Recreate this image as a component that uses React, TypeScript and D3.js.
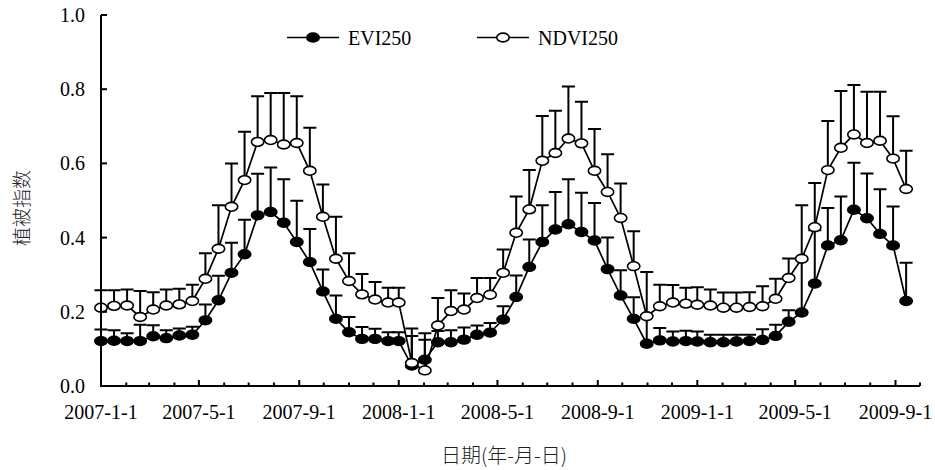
import React, { useEffect, useRef } from 'react';
import * as d3 from 'd3';

// 16-day composites: 23 per year, 2009 up to mid-September
const years = [2007, 2008, 2009];
const compositesPerYear = [23, 23, 17];

const evi = [
  0.121, 0.122, 0.121, 0.121, 0.134, 0.129, 0.136, 0.138, 0.177, 0.231, 0.305, 0.355, 0.46, 0.469, 0.44, 0.388,
  0.334, 0.255, 0.181, 0.145, 0.127, 0.127, 0.121,
  0.121, 0.055, 0.071, 0.118, 0.118, 0.125, 0.138, 0.144, 0.179, 0.24, 0.321, 0.388, 0.422, 0.436, 0.415, 0.392,
  0.315, 0.244, 0.181, 0.114, 0.123, 0.12, 0.121,
  0.12, 0.118, 0.118, 0.12, 0.121, 0.124, 0.135, 0.173, 0.198, 0.276, 0.379, 0.393, 0.475, 0.452, 0.41, 0.379, 0.229,
];
const eviTop = [
  0.152, 0.15, 0.142, 0.165, 0.164, 0.15, 0.155, 0.16, 0.22, 0.297, 0.386, 0.448, 0.572, 0.589, 0.557, 0.499,
  0.423, 0.314, 0.244, 0.186, 0.159, 0.154, 0.145,
  0.145, 0.135, 0.125, 0.148, 0.15, 0.158, 0.163, 0.17, 0.215, 0.298, 0.395, 0.487, 0.523, 0.557, 0.521, 0.493,
  0.4, 0.312, 0.239, 0.19, 0.156, 0.147, 0.149,
  0.147, 0.138, 0.138, 0.138, 0.138, 0.153, 0.165, 0.204, 0.34, 0.42, 0.48, 0.511, 0.602, 0.573, 0.53, 0.484, 0.332,
];
const ndvi = [
  0.211, 0.216, 0.217, 0.186, 0.206, 0.217, 0.22, 0.229, 0.289, 0.37, 0.483, 0.555, 0.658, 0.663, 0.651, 0.655,
  0.58, 0.456, 0.343, 0.283, 0.247, 0.233, 0.225,
  0.225, 0.062, 0.042, 0.163, 0.202, 0.206, 0.237, 0.246, 0.305, 0.413, 0.476, 0.607, 0.628, 0.667, 0.654, 0.58,
  0.523, 0.453, 0.323, 0.188, 0.215, 0.225, 0.222,
  0.219, 0.217, 0.211, 0.211, 0.213, 0.215, 0.235, 0.291, 0.343, 0.428, 0.582, 0.642, 0.678, 0.655, 0.661, 0.613, 0.531,
];
const ndviTop = [
  0.258, 0.258, 0.26, 0.256, 0.253, 0.26, 0.262, 0.273, 0.358, 0.487, 0.6, 0.685, 0.781, 0.79, 0.79, 0.781,
  0.696, 0.543, 0.456, 0.358, 0.302, 0.28, 0.265,
  0.265, 0.155, 0.142, 0.237, 0.258, 0.249, 0.291, 0.291, 0.368, 0.511, 0.582, 0.728, 0.742, 0.807, 0.766, 0.693,
  0.625, 0.546, 0.417, 0.307, 0.273, 0.272, 0.265,
  0.266, 0.26, 0.252, 0.252, 0.253, 0.269, 0.289, 0.344, 0.487, 0.547, 0.714, 0.795, 0.811, 0.793, 0.793, 0.727, 0.634,
];

const xLabels = ["2007-1-1", "2007-5-1", "2007-9-1", "2008-1-1", "2008-5-1", "2008-9-1", "2009-1-1", "2009-5-1", "2009-9-1"];
const yTicks = [0, 0.2, 0.4, 0.6, 0.8, 1.0];
const seriesNames = ["EVI250", "NDVI250"];

const serif = '"Liberation Serif", "Times New Roman", serif';
const cjk = '"Noto Sans CJK SC", sans-serif';

const parseLabel = (s: string) => {
  const [y, m, d] = s.split("-").map(Number);
  return new Date(y, m - 1, d);
};

const App = () => {
  const svgRef = useRef<SVGSVGElement>(null);

  useEffect(() => {
    const svg = d3.select(svgRef.current);
    svg.selectAll("*").remove();

    const width = 935;
    const height = 470;
    const left = 101, right = 920, top = 15, bottom = 386;

    const dates: Date[] = [];
    years.forEach((yr, i) => {
      for (let k = 0; k < compositesPerYear[i]; k++) dates.push(new Date(yr, 0, 1 + 16 * k));
    });

    const x = d3.scaleTime()
      .domain([new Date(2007, 0, 1), new Date(2009, 9, 1)])
      .range([left, right]);
    const y = d3.scaleLinear().domain([0, 1]).range([bottom, top]);

    svg.attr("width", width).attr("height", height);

    const rx = 6.2, ry = 4.4, cap = 6.5;

    const drawSeries = (vals: number[], tops: number[], filled: boolean) => {
      const g = svg.append("g");
      // error bars (upper only)
      g.selectAll(".eb")
        .data(vals)
        .enter()
        .append("path")
        .attr("d", (d, i) => {
          const cx = x(dates[i]);
          return `M${cx},${y(d)}V${y(tops[i])}M${cx - cap},${y(tops[i])}H${cx + cap}`;
        })
        .attr("stroke", "#000")
        .attr("stroke-width", 2)
        .attr("fill", "none");

      const line = d3.line<number>()
        .x((d, i) => x(dates[i]))
        .y((d) => y(d));
      g.append("path")
        .datum(vals)
        .attr("d", line)
        .attr("fill", "none")
        .attr("stroke", "#000")
        .attr("stroke-width", 1.7);

      g.selectAll(".mk")
        .data(vals)
        .enter()
        .append("ellipse")
        .attr("cx", (d, i) => x(dates[i]))
        .attr("cy", (d) => y(d))
        .attr("rx", rx)
        .attr("ry", ry)
        .attr("fill", filled ? "#000" : "#fff")
        .attr("stroke", "#000")
        .attr("stroke-width", 1.6);
    };

    drawSeries(evi, eviTop, true);
    drawSeries(ndvi, ndviTop, false);

    // axes
    const axis = svg.append("g").attr("stroke", "#000").attr("stroke-width", 2).attr("fill", "none");
    axis.append("path").attr("d", `M${left},${top}V${bottom}H${right}`);

    yTicks.forEach((t) => {
      if (t > 0) axis.append("path").attr("d", `M${left},${y(t)}h6`);
    });
    const labelDates = xLabels.map(parseLabel);
    const majorTimes = new Set(labelDates.map((d) => d.getTime()));
    d3.timeMonth.range(new Date(2007, 1, 1), new Date(2009, 9, 2)).forEach((m) => {
      const len = majorTimes.has(m.getTime()) ? 6 : 3.5;
      axis.append("path").attr("d", `M${x(m)},${bottom}v${-len}`);
    });

    svg.append("g")
      .selectAll("text")
      .data(yTicks)
      .enter()
      .append("text")
      .attr("x", 85)
      .attr("y", (d) => y(d))
      .attr("dy", "0.35em")
      .attr("text-anchor", "end")
      .style("font-family", serif)
      .style("font-size", "20px")
      .text((d) => d.toFixed(1));

    svg.append("g")
      .selectAll("text")
      .data(xLabels)
      .enter()
      .append("text")
      .attr("x", (d) => x(parseLabel(d)))
      .attr("y", 419)
      .attr("text-anchor", "middle")
      .style("font-family", serif)
      .style("font-size", "20px")
      .text((d) => d);

    svg.append("text")
      .attr("x", 504)
      .attr("y", 463)
      .attr("text-anchor", "middle")
      .style("font-family", cjk)
      .style("font-size", "20px")
      .style("font-weight", 300)
      .attr("fill", "#222")
      .text("日期(年-月-日)");

    svg.append("text")
      .attr("transform", `translate(29,208) rotate(-90)`)
      .attr("text-anchor", "middle")
      .style("font-family", cjk)
      .style("font-size", "19px")
      .style("font-weight", 300)
      .attr("fill", "#222")
      .text("植被指数");

    // legend
    const legend = [
      { name: seriesNames[0], x0: 287, filled: true },
      { name: seriesNames[1], x0: 477, filled: false },
    ];
    legend.forEach((l) => {
      const ly = 37.5;
      svg.append("path")
        .attr("d", `M${l.x0},${ly}H${l.x0 + 52}`)
        .attr("stroke", "#000")
        .attr("stroke-width", 1.7);
      svg.append("ellipse")
        .attr("cx", l.x0 + 26)
        .attr("cy", ly)
        .attr("rx", rx)
        .attr("ry", ry)
        .attr("fill", l.filled ? "#000" : "#fff")
        .attr("stroke", "#000")
        .attr("stroke-width", 1.6);
      svg.append("text")
        .attr("x", l.x0 + 61)
        .attr("y", ly)
        .attr("dy", "0.35em")
        .style("font-family", serif)
        .style("font-size", "20px")
        .text(l.name);
    });
  }, []);

  return (
    <div style={{ position: "absolute", left: 0, top: 0 }}>
      <svg ref={svgRef} style={{ display: "block", background: "#fff" }}></svg>
    </div>
  );
};

export default App;
